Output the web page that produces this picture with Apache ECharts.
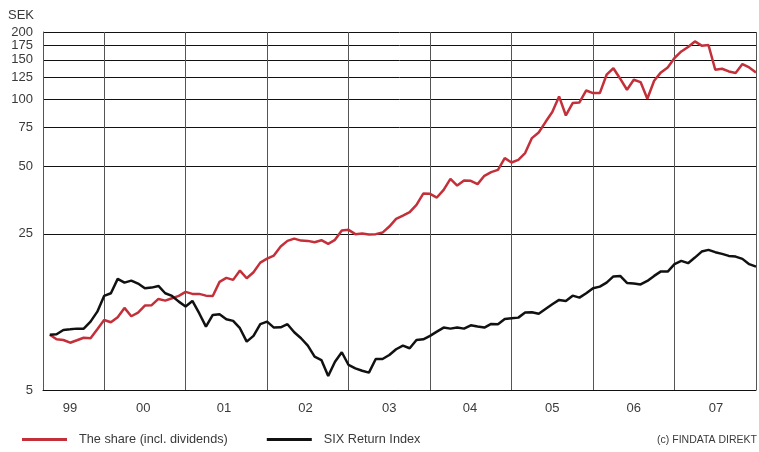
<!DOCTYPE html>
<html>
<head>
<meta charset="utf-8">
<script src="https://cdn.jsdelivr.net/npm/echarts@6/dist/echarts.min.js"></script>
<style>
  html, body { margin: 0; padding: 0; background: #fff; }
  #chart { width: 759px; height: 452px; }
</style>
</head>
<body>
<div id="chart"></div>
<script>
// Monthly closing values (SEK), end of April 1999 to end of December 2007
const firstYear = 1999;
const firstMonth = 4;

const shareValues = [
  8.84, 8.43, 8.37, 8.14, 8.35, 8.57, 8.52, 9.35, 10.29, 10.05,
  10.58, 11.65, 10.69, 11.10, 11.93, 11.98, 12.78, 12.56, 12.87, 13.18,
  13.74, 13.46, 13.46, 13.22, 13.18, 15.23, 15.87, 15.55, 17.11, 15.82,
  16.83, 18.58, 19.37, 19.97, 21.92, 23.24, 23.80, 23.31, 23.24, 22.93,
  23.40, 22.54, 23.49, 25.85, 26.04, 24.91, 25.07, 24.81, 24.91, 25.32,
  26.94, 29.16, 30.17, 31.25, 33.69, 37.86, 37.74, 36.33, 39.33, 44.05,
  41.11, 43.29, 43.16, 41.71, 45.44, 47.21, 48.34, 54.55, 52.13, 53.60,
  57.43, 67.03, 71.02, 79.06, 87.65, 102.96, 84.63, 96.17, 96.77, 109.5,
  106.6, 106.6, 128.8, 137.7, 123.6, 110.3, 122.3, 119.4, 100.5, 121.1,
  131.9, 138.8, 153.0, 163.7, 171.4, 181.5, 173.7, 174.9, 135.6, 137.0,
  133.2, 131.1, 143.8, 138.8, 131.9
];

const indexValues = [
  8.84, 8.88, 9.28, 9.34, 9.41, 9.41, 10.11, 11.21, 13.18, 13.55,
  15.71, 15.12, 15.44, 14.97, 14.27, 14.36, 14.61, 13.55, 13.18, 12.43,
  11.83, 12.52, 11.03, 9.61, 10.84, 10.92, 10.37, 10.19, 9.45, 8.23,
  8.73, 9.85, 10.11, 9.51, 9.54, 9.85, 9.07, 8.52, 7.90, 7.05,
  6.81, 5.78, 6.69, 7.38, 6.47, 6.25, 6.10, 5.98, 6.88, 6.88,
  7.17, 7.61, 7.90, 7.69, 8.37, 8.43, 8.73, 9.12, 9.51, 9.41,
  9.51, 9.41, 9.74, 9.61, 9.51, 9.88, 9.85, 10.40, 10.47, 10.54,
  11.10, 11.14, 10.98, 11.53, 12.10, 12.65, 12.52, 13.22, 12.95, 13.55,
  14.27, 14.51, 15.12, 16.12, 16.20, 15.07, 14.99, 14.84, 15.39, 16.20,
  16.97, 16.94, 18.28, 18.91, 18.47, 19.57, 20.82, 21.18, 20.69, 20.33,
  19.91, 19.77, 19.31, 18.28, 17.83
];

const yTicks = [5, 25, 50, 75, 100, 125, 150, 175, 200];
const yearBoundaries = [2000, 2001, 2002, 2003, 2004, 2005, 2006, 2007, 2008];
const yearLabels = ['99', '00', '01', '02', '03', '04', '05', '06', '07'];
const yearLabelAt = [1999.58, 2000.48, 2001.47, 2002.47, 2003.5, 2004.49, 2005.5, 2006.5, 2007.51];

// month-end position of each observation, in decimal years
function monthPos(i) {
  return firstYear + (firstMonth + i) / 12;
}
const sharePoints = shareValues.map((v, i) => [monthPos(i), v]);
const indexPoints = indexValues.map((v, i) => [monthPos(i), v]);

const font = '"Liberation Sans", Arial, Helvetica, sans-serif';
const textColor = '#3a3a3a';
const chart = echarts.init(document.getElementById('chart'), null, { renderer: 'canvas' });

chart.setOption({
  animation: false,
  backgroundColor: '#fff',
  textStyle: { fontFamily: font },
  title: [
    { text: 'SEK', left: 8, top: 9, padding: 0, textStyle: { fontSize: 13, fontWeight: 'normal', color: textColor, fontFamily: font } },
    { text: '(c) FINDATA DIREKT', right: 2, top: 435, padding: 0, textStyle: { fontSize: 10.5, fontWeight: 'normal', color: textColor, fontFamily: font } }
  ],
  legend: {
    left: 22,
    top: 433,
    padding: 0,
    itemWidth: 45,
    itemHeight: 3,
    itemGap: 39,
    icon: 'rect',
    textStyle: { fontSize: 12.7, color: textColor, fontFamily: font, padding: [0, 0, 0, 7] },
    data: ['The share (incl. dividends)', 'SIX Return Index']
  },
  grid: { left: 43, right: 3, top: 32, bottom: 62, containLabel: false },
  xAxis: {
    type: 'value',
    min: 1999.25,
    max: 2008,
    axisLine: { show: true, lineStyle: { color: '#111', width: 1 } },
    axisTick: { show: false, customValues: yearBoundaries },
    splitLine: { show: true, lineStyle: { color: '#555', width: 1 } },
    axisLabel: {
      customValues: yearLabelAt,
      formatter: v => yearLabels[yearLabelAt.indexOf(v)] || '',
      margin: 12,
      fontSize: 13,
      color: textColor,
      fontFamily: font
    }
  },
  yAxis: {
    type: 'log',
    logBase: 10,
    min: 4.9999,
    max: 200.001,
    axisLine: { show: true, lineStyle: { color: '#555', width: 1 } },
    axisTick: { show: false, customValues: yTicks },
    splitLine: { show: true, lineStyle: { color: '#111', width: 1 } },
    axisLabel: {
      customValues: yTicks,
      formatter: v => String(Math.round(v)),
      margin: 10,
      fontSize: 13,
      color: textColor,
      fontFamily: font
    }
  },
  series: [
    {
      name: 'The share (incl. dividends)',
      type: 'line',
      data: sharePoints,
      symbol: 'none',
      color: '#c4303a',
      lineStyle: { color: '#c4303a', width: 2.5 },
      z: 3
    },
    {
      name: 'SIX Return Index',
      type: 'line',
      data: indexPoints,
      symbol: 'none',
      color: '#111',
      lineStyle: { color: '#111', width: 2.5 },
      z: 4
    }
  ]
});
</script>
</body>
</html>
